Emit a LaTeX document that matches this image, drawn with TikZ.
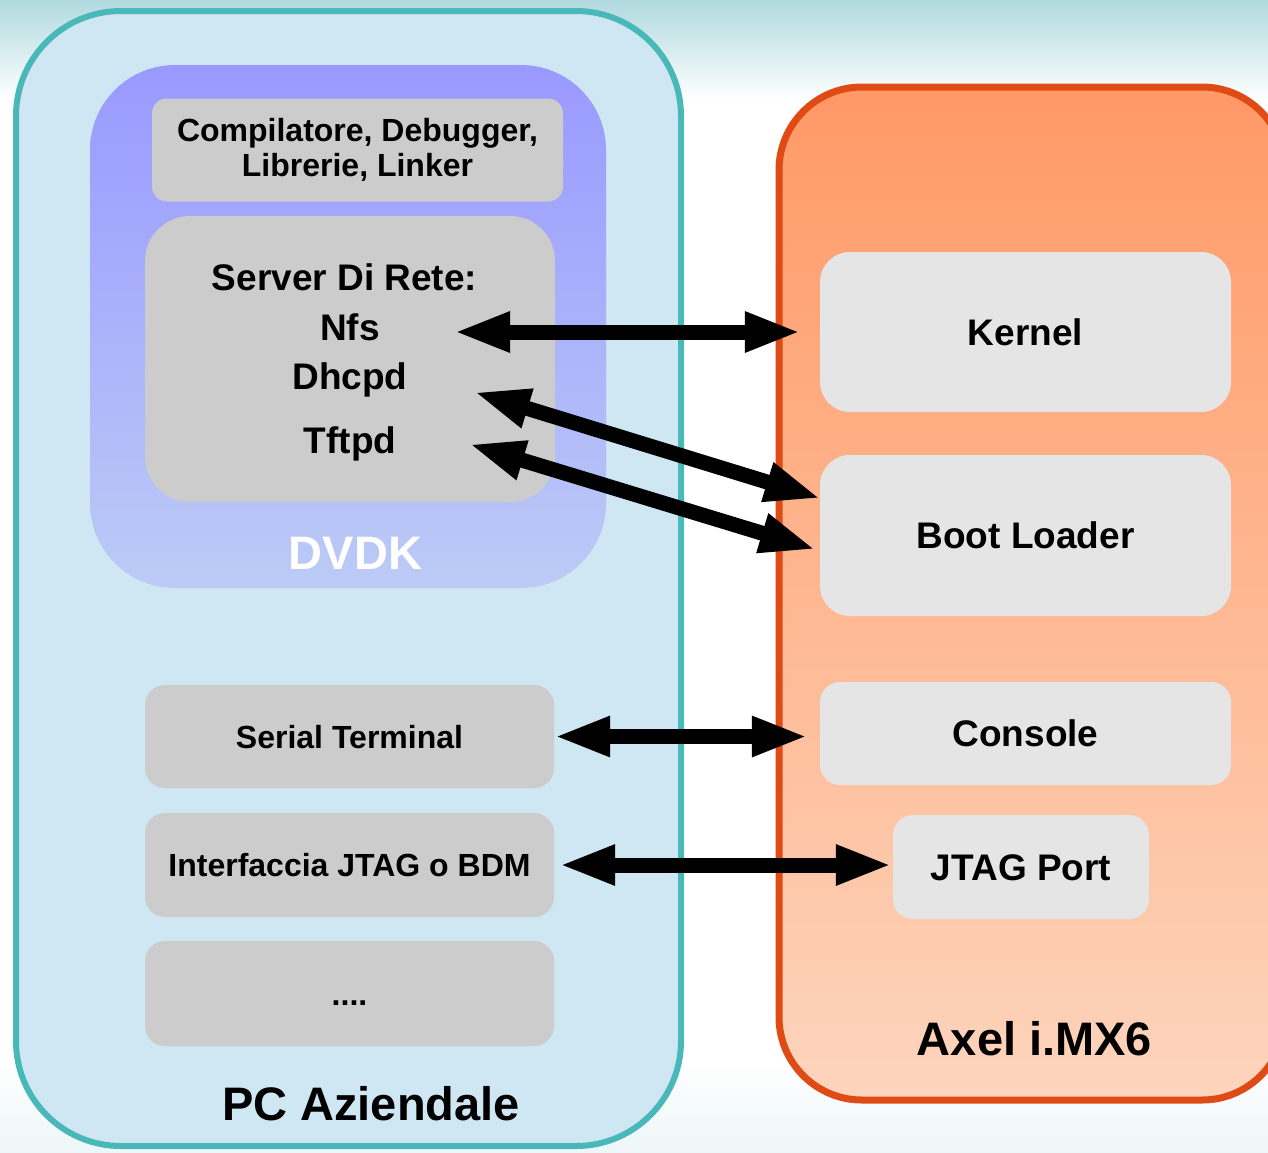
\documentclass[tikz,border=0pt]{standalone}
\usepackage{fontspec}
\setmainfont{Liberation Sans}
\usepackage{tikz}
\usetikzlibrary{arrows.meta}
\definecolor{cBgTop}{HTML}{B0DADF}
\definecolor{cBgBot}{HTML}{EDF6F8}
\definecolor{cPc}{HTML}{CFE6F3}
\definecolor{cPcLine}{HTML}{48B9B8}
\definecolor{cDvdkTop}{HTML}{9999FF}
\definecolor{cDvdkBot}{HTML}{BCCBF6}
\definecolor{cAxTop}{HTML}{FF9966}
\definecolor{cAxBot}{HTML}{FDD5BD}
\definecolor{cAxLine}{HTML}{E04B15}
\definecolor{cGrey}{HTML}{CCCCCC}
\definecolor{cLight}{HTML}{E5E5E5}
\tikzset{
  pcblk/.style={draw=cPcLine, line width=6pt, fill=cPc, rounded corners=105pt, inner sep=0pt},
  axblk/.style={draw=cAxLine, line width=7pt, top color=cAxTop, bottom color=cAxBot,
                rounded corners=83pt, inner sep=0pt},
  dvdkblk/.style={top color=cDvdkTop, bottom color=cDvdkBot, rounded corners=85pt, inner sep=0pt},
  gblk/.style={fill=cGrey, inner sep=0pt, rounded corners=20pt,
               font=\fontsize{32}{35}\selectfont\bfseries, text height=23pt, text depth=0pt},
  lblk/.style={fill=cLight, inner sep=0pt, rounded corners=20pt,
               font=\fontsize{37}{40}\selectfont\bfseries, text height=26.5pt, text depth=0pt},
  srv/.style={font=\fontsize{37}{40}\selectfont\bfseries, inner sep=0pt, anchor=base},
  title/.style={font=\fontsize{47}{50}\selectfont\bfseries, inner sep=0pt, anchor=base},
  dblarr/.style={{Triangle[length=56pt,width=37pt]}-{Triangle[length=56pt,width=37pt]},
                 line width=15pt, black}
}

\begin{document}
\begin{tikzpicture}[x=1pt,y=-1pt]
\useasboundingbox (0,0) rectangle (1268,1152);
\clip (0,0) rectangle (1268,1152);
% background fades
\shade[top color=cBgTop, bottom color=white] (0,0) rectangle (1268,100);
\shade[top color=white, bottom color=cBgBot] (0,1060) rectangle (1268,1152);

% host PC
\node[pcblk, minimum width=665pt, minimum height=1135pt] (pc) at (348.5,578.5) {};
\node[dvdkblk, minimum width=516pt, minimum height=523pt] (dvdk) at (348,326.5) {};
\node[gblk, rounded corners=15pt, minimum width=411pt, minimum height=103pt,
      align=center, text height=, text depth=] (tools) at (357.5,150)
      {Compilatore, Debugger,\\Librerie, Linker};
\node[gblk, rounded corners=45pt, minimum width=410pt, minimum height=286pt] (server) at (350,359) {};
\node[srv] (srvlbl) at (344.5,290) {Server Di Rete:};
\node[srv] (nfs) at (350,340) {Nfs};
\node[srv] (dhcpd) at (350,389) {Dhcpd};
\node[srv] (tftpd) at (350,453) {Tftpd};
\node[title, text=white] (dvdklbl) at (355.5,569) {DVDK};
\node[gblk, minimum width=409pt, minimum height=103pt] (serial) at (349.5,736.5) {Serial Terminal};
\node[gblk, minimum width=409pt, minimum height=104pt] (jtagif) at (349.5,865) {Interfaccia JTAG o BDM};
\node[gblk, minimum width=409pt, minimum height=105pt] (more) at (349.5,993.5) {....};
\node[title] (pclbl) at (371,1120) {PC Aziendale};

% target board
\node[axblk, minimum width=506pt, minimum height=1013pt] (axel) at (1032,593.5) {};
\node[lblk, rounded corners=30pt, minimum width=411pt, minimum height=160pt] (kernel) at (1025.5,332) {Kernel};
\node[lblk, rounded corners=30pt, minimum width=411pt, minimum height=161pt] (boot) at (1025.5,535.5) {Boot Loader};
\node[lblk, minimum width=411pt, minimum height=103pt] (console) at (1025.5,733.5) {Console};
\node[lblk, minimum width=256pt, minimum height=104pt] (jtag) at (1021,867) {JTAG Port};
\node[title] (axlbl) at (1034.5,1055) {Axel i.MX6};

% links
\coordinate (nfsR) at (454,332);
\coordinate (dhcpdR) at (474,392);
\coordinate (tftpdR) at (469,444);
\draw[dblarr] (nfsR) -- ([xshift=-19pt]kernel.west);
\draw[dblarr] (dhcpdR) -- ([shift={(1,-37)}]boot.west);
\draw[dblarr] (tftpdR) -- ([shift={(-4,14)}]boot.west);
\draw[dblarr] (serial.east) -- ([shift={(-12,3)}]console.west);
\draw[dblarr] ([xshift=5pt]jtagif.east) -- ([shift={(-1,-2)}]jtag.west);
\end{tikzpicture}
\end{document}
